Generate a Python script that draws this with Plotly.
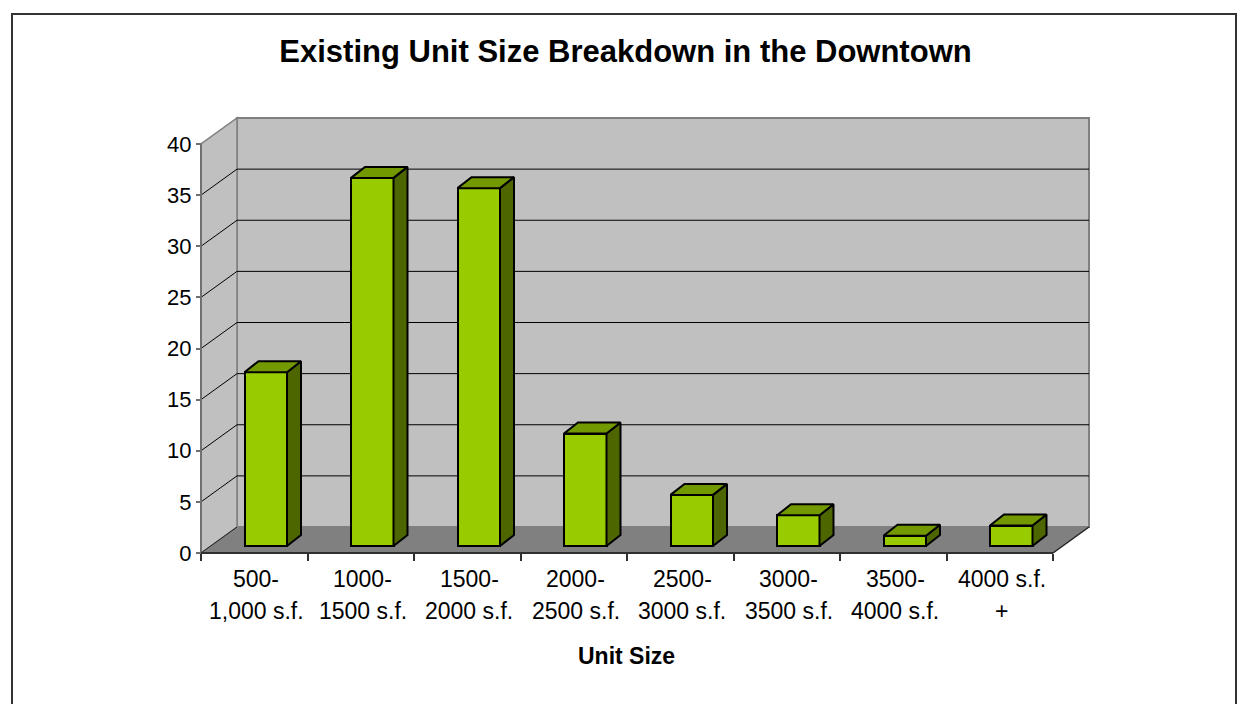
import plotly.graph_objects as go

# ---- data ----
categories = ["500-\n1,000 s.f.", "1000-\n1500 s.f.", "1500-\n2000 s.f.", "2000-\n2500 s.f.",
              "2500-\n3000 s.f.", "3000-\n3500 s.f.", "3500-\n4000 s.f.", "4000 s.f.\n+"]
values = [17, 36, 35, 11, 5, 3, 1, 2]
y_ticks = [0, 5, 10, 15, 20, 25, 30, 35, 40]
title_text = "Existing Unit Size Breakdown in the Downtown"
x_title = "Unit Size"

# ---- geometry (pixels -> data units) ----
W, H = 1239, 704
L, R, T, B = 201, 1090, 120, 553          # wall box in pixels
E = 5                                      # extra room around the walls
PL, PR, PT, PB = L - E, R + E, T - E, B + E  # plot area in pixels
P = 106.5                                  # px per category
Q = 10.225                                 # px per value unit
n = len(categories)
ymax = y_ticks[-1]
DX, DY = 36 / P, 26 / Q                    # wall depth
BY0 = 7 / Q                                # bar front offset in depth
BOFF, BW = 43.5 / P, 42.5 / P              # bar front left offset / width
BDX, BDY = 14 / P, 11 / Q                  # bar depth

FONT = "Liberation Sans, Arial, sans-serif"
front_c, top_c, side_c = "#99CC00", "#739900", "#4D6600"
OUT_W = 2

fig = go.Figure()

# bar front faces
xc = [i + BOFF + BW / 2 for i in range(n)]
fig.add_trace(go.Bar(x=xc, y=values, base=[BY0] * n, width=BW,
                     marker=dict(color=front_c, line=dict(color="black", width=OUT_W)),
                     hoverinfo="skip", showlegend=False))

# bar side and top faces
sx, sy, tx, ty = [], [], [], []
for i, v in enumerate(values):
    x0 = i + BOFF
    x1 = x0 + BW
    sx += [x1, x1 + BDX, x1 + BDX, x1, x1, None]
    sy += [BY0, BY0 + BDY, BY0 + v + BDY, BY0 + v, BY0, None]
    tx += [x0, x1, x1 + BDX, x0 + BDX, x0, None]
    ty += [BY0 + v, BY0 + v, BY0 + v + BDY, BY0 + v + BDY, BY0 + v, None]
fig.add_trace(go.Scatter(x=sx, y=sy, mode="lines", fill="toself", fillcolor=side_c,
                         line=dict(color="black", width=OUT_W), hoverinfo="skip", showlegend=False))
fig.add_trace(go.Scatter(x=tx, y=ty, mode="lines", fill="toself", fillcolor=top_c,
                         line=dict(color="black", width=OUT_W), hoverinfo="skip", showlegend=False))

shapes = []
# back wall
shapes.append(dict(type="rect", xref="x", yref="y", x0=DX, x1=n + DX, y0=DY, y1=ymax + DY,
                   fillcolor="#C0C0C0", line=dict(color="#808080", width=2), layer="below"))
# side wall
shapes.append(dict(type="path", xref="x", yref="y",
                   path=f"M 0,0 L 0,{ymax} L {DX},{ymax + DY} L {DX},{DY} Z",
                   fillcolor="#C0C0C0", line=dict(color="#808080", width=1.5), layer="below"))
# gridlines
for v in y_ticks[1:-1]:
    shapes.append(dict(type="line", xref="x", yref="y", x0=DX, x1=n + DX, y0=v + DY, y1=v + DY,
                       line=dict(color="black", width=1), layer="below"))
    shapes.append(dict(type="line", xref="x", yref="y", x0=0, x1=DX, y0=v, y1=v + DY,
                       line=dict(color="black", width=1), layer="below"))
# floor
shapes.append(dict(type="path", xref="x", yref="y",
                   path=f"M 0,0 L {n},0 L {n + DX},{DY} L {DX},{DY} Z",
                   fillcolor="#808080", line=dict(width=0), layer="below"))
shapes.append(dict(type="line", xref="x", yref="y", x0=0, x1=DX, y0=0, y1=DY,
                   line=dict(color="#202020", width=1), layer="below"))
shapes.append(dict(type="line", xref="x", yref="y", x0=n, x1=n + DX, y0=0, y1=DY,
                   line=dict(color="#202020", width=1.5), layer="below"))
# axis lines
shapes.append(dict(type="line", xref="x", yref="y", x0=0, x1=0, y0=0, y1=ymax,
                   line=dict(color="#707070", width=2), layer="above"))
shapes.append(dict(type="line", xref="x", yref="y", x0=0, x1=n, y0=0, y1=0,
                   line=dict(color="#303030", width=2), layer="above"))
# chart border
pw, ph = PR - PL, PB - PT
shapes.append(dict(type="rect", xref="paper", yref="paper",
                   x0=(12 - PL) / pw, x1=(1236 - PL) / pw, y0=(PB - 720) / ph, y1=(PB - 14) / ph,
                   line=dict(color="#333333", width=2), fillcolor="rgba(0,0,0,0)", layer="above"))

annotations = []
for i, c in enumerate(categories):
    parts = c.split("\n")
    for k, line in enumerate(parts):
        ypx = 579 if k == 0 else 611
        annotations.append(dict(x=i + 0.5 + 2 / P, y=(PB - ypx) / ph, xref="x", yref="paper",
                                text=line, showarrow=False, xanchor="center", yanchor="middle",
                                font=dict(family=FONT, size=23, color="black")))
annotations.append(dict(x=(626 - PL) / pw, y=(PB - 656) / ph, xref="paper", yref="paper",
                        text=f"<b>{x_title}</b>", showarrow=False, xanchor="center", yanchor="middle",
                        font=dict(family=FONT, size=23, color="black")))

fig.update_layout(
    width=W, height=H,
    margin=dict(l=PL, r=W - PR, t=PT, b=H - PB, pad=0),
    paper_bgcolor="white", plot_bgcolor="white",
    title=dict(text=f"<b>{title_text}</b>", x=625.5 / W, y=1 - 51 / H, xref="container", yref="container",
               xanchor="center", yanchor="middle", font=dict(family=FONT, size=31, color="black")),
    xaxis=dict(range=[-E / P, (PR - L) / P], showgrid=False, zeroline=False, showline=False,
               anchor="free", position=E / ph,
               tickvals=list(range(n + 1)), ticks="outside", ticklen=7, tickwidth=1.5,
               tickcolor="#303030", showticklabels=False, fixedrange=True, automargin=False),
    yaxis=dict(range=[-E / Q, (B - PT) / Q], showgrid=False, zeroline=False, showline=False,
               anchor="free", position=E / pw,
               tickvals=y_ticks, ticktext=[str(t) for t in y_ticks], ticks="outside", ticklen=5,
               tickwidth=1.5, tickcolor="#707070",
               tickfont=dict(family=FONT, size=22, color="black"), fixedrange=True, automargin=False),
    shapes=shapes, annotations=annotations, bargap=0, showlegend=False,
)

fig.write_html("out.html", config={"displayModeBar": False},
               post_script="document.body.style.margin='0';document.body.style.overflow='hidden';")
